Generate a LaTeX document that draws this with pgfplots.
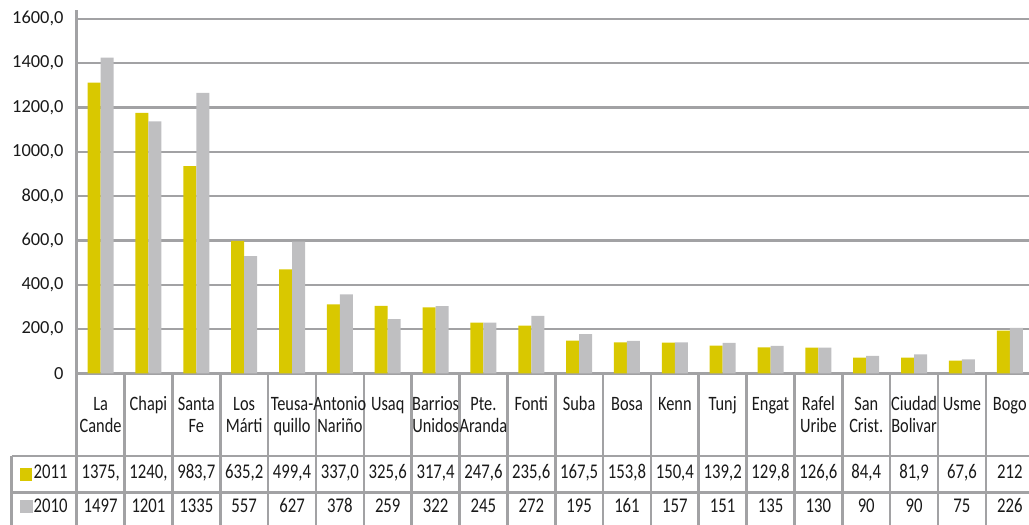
\documentclass[border=0pt]{standalone}
\usepackage{fontspec}
\setmainfont{Carlito}
\newfontfamily\tabfont{Carlito}[FakeStretch=0.8]
\usepackage{pgfplots}
\pgfplotsset{compat=1.18}
\definecolor{ybarc}{RGB}{217,200,0}
\definecolor{gbarc}{RGB}{191,191,193}
\definecolor{gridc}{RGB}{162,162,164}
\definecolor{txt}{RGB}{25,25,25}
\begin{document}
\begin{tikzpicture}[x=1bp,y=1bp]
\useasboundingbox (0,0) rectangle (1029,525);
\clip (0,0) rectangle (1029,525);
\begin{axis}[
  at={(76.7bp,151.5bp)}, anchor=south west,
  scale only axis, width=957bp, height=363.5bp,
  xmin=-0.5, xmax=19.5, ymin=0, ymax=1640,
  ybar=0pt, bar width=13bp,
  axis x line*=bottom, axis y line*=left,
  axis line style={draw=gridc, line width=2.6bp},
  xtick=\empty,
  ytick={0,200,...,1600},
  yticklabels={0,{200,0},{400,0},{600,0},{800,0},{1000,0},{1200,0},{1400,0},{1600,0}},
  major tick length=0pt,
  ymajorgrids, grid style={draw=gridc, line width=2.6bp},
  yticklabel style={font=\fontsize{18.5}{20}\selectfont, text=txt, inner sep=0pt, xshift=-13bp},
]
\addplot[fill=ybarc, draw=none] coordinates {(0,1312) (1,1176) (2,936) (3,598) (4,470) (5,312) (6,305) (7,298) (8,230) (9,216) (10,148) (11,140) (12,139) (13,126) (14,118) (15,117) (16,72) (17,72) (18,58) (19,193)};
\addplot[fill=gbarc, draw=none] coordinates {(0,1425) (1,1138) (2,1266) (3,530) (4,595) (5,357) (6,245) (7,304) (8,230) (9,260) (10,178) (11,147) (12,140) (13,138) (14,125) (15,117) (16,80) (17,86) (18,64) (19,206)};
\end{axis}
% table grid
\begin{scope}[draw=gridc, line width=2.6bp]
\foreach \k in {0,...,20} \draw ({76.7+47.85*\k},151.5) -- ++(0,-160);
\draw (11.7,69) -- (1040,69);
\draw (11.7,32.3) -- (1040,32.3);
\draw (11.7,69) -- (11.7,-10);
\end{scope}
% category names
\foreach [count=\k from 0] \a/\b in {La/Cande, Chapi/, Santa/Fe, Los/Márti, Teusa-/quillo, Antonio/Nariño, Usaq/, Barrios/Unidos, Pte./Aranda, Fonti/, Suba/, Bosa/, Kenn/, Tunj/, Engat/, Rafel/Uribe, San/Crist., Ciudad/Bolivar, Usme/, Bogo/}{
  \node[font=\tabfont\fontsize{20.5}{22}\selectfont, text=txt, inner sep=0pt] at ({76.7+47.85*(\k+0.5)},118.5) {\strut\a};
  \node[font=\tabfont\fontsize{20.5}{22}\selectfont, text=txt, inner sep=0pt] at ({76.7+47.85*(\k+0.5)},97) {\strut\b};
}
\foreach [count=\k from 0] \v in {{1375,},{1240,},{983,7},{635,2},{499,4},{337,0},{325,6},{317,4},{247,6},{235,6},{167,5},{153,8},{150,4},{139,2},{129,8},{126,6},{84,4},{81,9},{67,6},{212}}{
  \node[font=\tabfont\fontsize{21}{22}\selectfont, text=txt, inner sep=0pt] at ({76.7+47.85*(\k+0.5)},51) {\strut\v};
}
\foreach [count=\k from 0] \v in {1497,1201,1335,557,627,378,259,322,245,272,195,161,157,151,135,130,90,90,75,226}{
  \node[font=\tabfont\fontsize{21}{22}\selectfont, text=txt, inner sep=0pt] at ({76.7+47.85*(\k+0.5)},17) {\strut\v};
}
% legend keys
\fill[ybarc] (20,44) rectangle (32,57);
\fill[gbarc] (20,12) rectangle (33,25);
\node[font=\tabfont\fontsize{21}{22}\selectfont, text=txt, inner sep=0pt, anchor=west] at (33.5,51) {\strut 2011};
\node[font=\tabfont\fontsize{21}{22}\selectfont, text=txt, inner sep=0pt, anchor=west] at (33.5,17) {\strut 2010};
\end{tikzpicture}
\end{document}
